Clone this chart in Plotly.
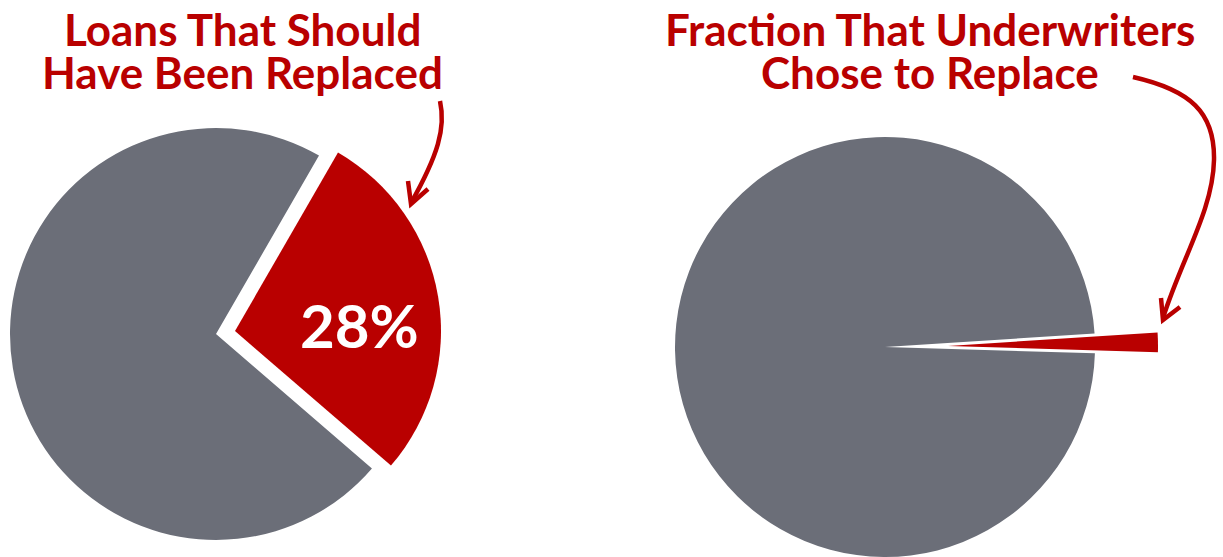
import plotly.graph_objects as go

# ---- data ----
left_labels = ["Should have been replaced", "Other loans"]
left_values = [28, 72]
right_labels = ["Chosen to replace", "Other loans"]
right_values = [1.5, 98.5]
left_title = ["Loans That Should", "Have Been Replaced"]
right_title = ["Frac\u200ction That Underwriters", "Chose to Replace"]

RED = "#B90000"
GRAY = "#6B6E78"
CLEAR = "rgba(0,0,0,0)"
W, H = 1223, 557


def dom(cx, cy, r):
    """pixel centre / radius -> paper domain"""
    return dict(x=[(cx - r) / W, (cx + r) / W], y=[1 - (cy + r) / H, 1 - (cy - r) / H])


fig = go.Figure()

common = dict(sort=False, direction="clockwise", hoverinfo="skip", showlegend=False, textinfo="none")

# Left pie: gray body with notch, then pulled-out red slice
fig.add_trace(go.Pie(labels=left_labels, values=left_values, rotation=30,
                     marker=dict(colors=[CLEAR, GRAY], line=dict(width=0)),
                     domain=dom(216, 334, 206), **common))
fig.add_trace(go.Pie(labels=left_labels, values=left_values, rotation=30,
                     marker=dict(colors=[RED, CLEAR], line=dict(width=0)),
                     domain=dom(235, 331, 206), **common))
fig.add_annotation(x=359, y=325, xref="x", yref="y", text=f"{left_values[0]}%", showarrow=False,
                   font=dict(family="Lato", size=60, color="white", weight="bold"),
                   xanchor="center", yanchor="middle")

# Right pie: gray body with notch, then exploded red sliver
rot_r = 89 - right_values[0] / sum(right_values) * 360 / 2
fig.add_trace(go.Pie(labels=right_labels, values=right_values, rotation=rot_r,
                     marker=dict(colors=[CLEAR, GRAY], line=dict(width=0)),
                     domain=dom(885, 347, 210), **common))
fig.add_trace(go.Pie(labels=right_labels, values=right_values, rotation=rot_r,
                     marker=dict(colors=[RED, CLEAR], line=dict(width=0)),
                     domain=dom(948, 346, 210), **common))

# Titles (two tightly spaced lines each, as in the reference)
tfont = dict(family="Lato", size=44, color=RED, weight="bold")
for cx, lines in ((242, left_title), (930, right_title)):
    for i, line in enumerate(lines):
        fig.add_annotation(x=cx, y=29 + 43 * i, xref="x", yref="y", text=line, showarrow=False,
                           font=tfont, xanchor="center", yanchor="middle")

# Curved arrows
aline = dict(color=RED, width=4.5)
fig.add_shape(type="path", xref="x", yref="y", path="M 440 101 C 446 128, 438 155, 411 203", line=aline)
fig.add_shape(type="path", xref="x", yref="y", path="M 408 181 L 411 204 L 428 189", line=aline)
fig.add_shape(type="path", xref="x", yref="y",
              path="M 1133 77 C 1190 90, 1215 112, 1214 160 C 1213 210, 1182 258, 1163 318", line=aline)
fig.add_shape(type="path", xref="x", yref="y", path="M 1161 298 L 1163 320 L 1180 307", line=aline)

fig.update_layout(
    width=W, height=H, margin=dict(l=0, r=0, t=0, b=0),
    paper_bgcolor="white", plot_bgcolor="rgba(0,0,0,0)",
    xaxis=dict(range=[0, W], visible=False, fixedrange=True),
    yaxis=dict(range=[H, 0], visible=False, fixedrange=True),
)
fig.write_html("out.html", config={"displayModeBar": False},
               post_script="document.body.style.margin='0';")
